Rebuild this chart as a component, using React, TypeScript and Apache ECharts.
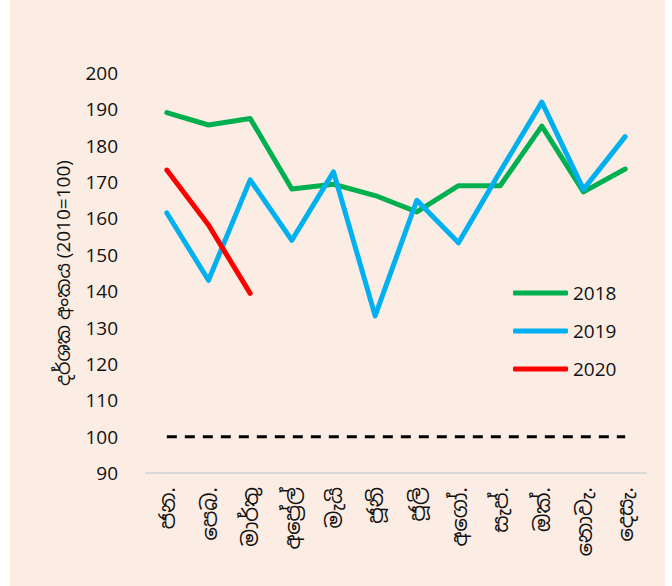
import React, { useEffect, useRef } from "react";
import * as echarts from "echarts";

const months = ["ජන.", "පෙබ.", "මාර්තු", "අප්‍රේල්", "මැයි", "ජූනි", "ජූලි", "අගෝ.", "සැප්.", "ඔක්.", "නොවැ.", "දෙසැ."];
const s2018 = [189.1, 185.7, 187.5, 168.1, 169.4, 166.3, 161.8, 169, 169, 185.4, 167.3, 173.6];
const s2019 = [161.5, 143, 170.6, 154, 172.8, 133.2, 165, 153.3, 172.9, 192, 168, 182.5];
const s2020: (number | null)[] = [173.3, 158.2, 139.4, null, null, null, null, null, null, null, null, null];
const baseline = [100, 100, 100, 100, 100, 100, 100, 100, 100, 100, 100, 100];
const yTitle = "දර්ශක අංකය (2010=100)";

const FONT = "'Open Sans', 'Noto Sans Sinhala', 'Noto Sans', sans-serif";

export default function App() {
  const ref = useRef<HTMLDivElement>(null);
  useEffect(() => {
    if (!ref.current) return;
    const chart = echarts.init(ref.current, null, { renderer: "svg" });
    chart.setOption({
      animation: false,
      backgroundColor: "#FCEDE4",
      textStyle: { fontFamily: FONT },
      grid: { left: 136, right: 19, top: 73, bottom: 113 },
      legend: {
        orient: "vertical",
        left: 498,
        top: 275,
        icon: "roundRect",
        itemWidth: 55,
        itemHeight: 5,
        itemGap: 12,
        data: ["2018", "2019", "2020"],
        textStyle: { fontSize: 19, color: "#111", fontFamily: FONT, padding: [0, 0, 0, 0], lineHeight: 26 },
      },
      xAxis: {
        type: "category",
        data: months,
        boundaryGap: true,
        axisLine: { lineStyle: { color: "#D9D9D9", width: 2 } },
        axisTick: { show: false },
        axisLabel: { rotate: 90, fontSize: 21, color: "#111", margin: 14, interval: 0, fontFamily: FONT },
      },
      yAxis: {
        type: "value",
        min: 90,
        max: 200,
        interval: 10,
        splitLine: { show: false },
        axisLine: { show: false },
        axisTick: { show: false },
        axisLabel: { fontSize: 19, color: "#111", margin: 28, fontFamily: FONT },
        name: yTitle,
        nameLocation: "middle",
        nameGap: 74,
        nameTextStyle: { fontSize: 19, color: "#111", fontFamily: FONT },
      },
      series: [
        {
          name: "base",
          type: "line",
          data: baseline,
          symbol: "none",
          lineStyle: { color: "#000", width: 3, type: [10, 8] },
          silent: true,
        },
        {
          name: "2018",
          type: "line",
          data: s2018,
          symbol: "none",
          color: "#00B050",
          lineStyle: { color: "#00B050", width: 5, cap: "round", join: "round" },
        },
        {
          name: "2019",
          type: "line",
          data: s2019,
          symbol: "none",
          color: "#00B0F0",
          lineStyle: { color: "#00B0F0", width: 5, cap: "round", join: "round" },
        },
        {
          name: "2020",
          type: "line",
          data: s2020,
          symbol: "none",
          color: "#FF0000",
          lineStyle: { color: "#FF0000", width: 5, cap: "round", join: "round" },
        },
      ],
    });
    return () => chart.dispose();
  }, []);
  return (
    <div style={{ position: "absolute", left: 0, top: 0, width: 672, height: 586, background: "#fff" }}>
      <div ref={ref} style={{ position: "absolute", left: 10, top: 0, width: 655, height: 586 }} />
    </div>
  );
}
